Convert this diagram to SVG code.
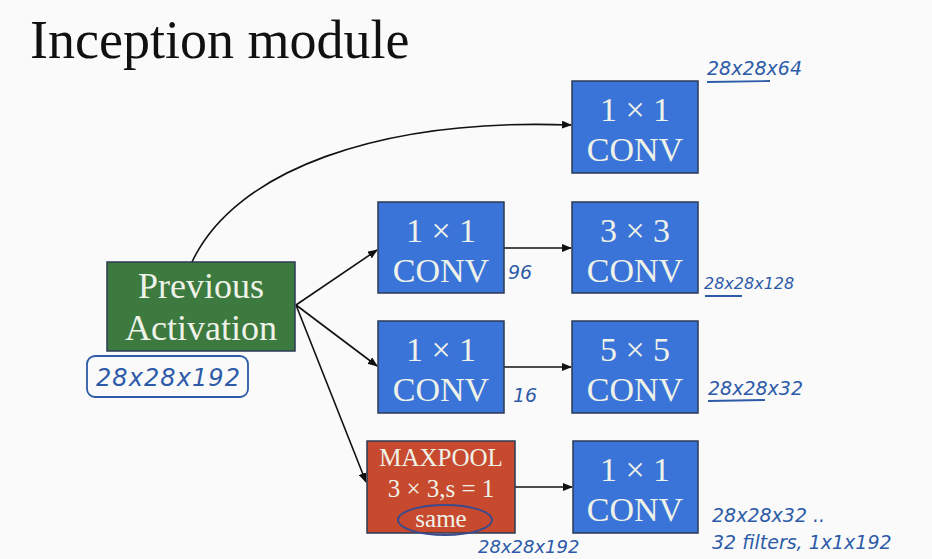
<svg xmlns="http://www.w3.org/2000/svg" width="932" height="559" viewBox="0 0 932 559">
<defs>
<marker id="ah" markerWidth="10" markerHeight="8" refX="9" refY="4" orient="auto" markerUnits="userSpaceOnUse">
<path d="M0,0 L10,4 L0,8 Z" fill="#111"/>
</marker>
<style>
.box{stroke:#2b3a55;stroke-width:1.5}
.blue{fill:#3a74d9}
.green{fill:#3d7a3f}
.red{fill:#c84a2e}
.bt{font-family:"Liberation Serif",serif;fill:#eef2e8;text-anchor:middle}
.conv{font-size:34px}
.pa{font-size:36px}
.mp{font-size:25px}
.hand{font-family:"DejaVu Sans",sans-serif;font-size:19px;fill:#2d5ba8;font-style:italic}
.ul{stroke:#2d5ba8;stroke-width:1.8;fill:none}
.con{stroke:#111;stroke-width:1.6;fill:none;marker-end:url(#ah)}
</style>
</defs>
<rect width="932" height="559" fill="#fafafa"/>
<text x="30" y="58" font-family="Liberation Serif,serif" font-size="54" fill="#111">Inception module</text>

<g id="connectors">
<path class="con" d="M192,262 C235,170 380,118 571,125"/>
<line class="con" x1="296" y1="305" x2="377" y2="250"/>
<line class="con" x1="296" y1="305" x2="377" y2="366"/>
<line class="con" x1="296" y1="305" x2="366" y2="482"/>
<line class="con" x1="504" y1="248" x2="571" y2="248"/>
<line class="con" x1="504" y1="367" x2="571" y2="367"/>
<line class="con" x1="515" y1="487" x2="572" y2="487"/>
</g>

<g id="prev">
<rect class="box green" x="107" y="262" width="188" height="89"/>
<text class="bt pa" x="201" y="298">Previous</text>
<text class="bt pa" x="201" y="340">Activation</text>
</g>
<g id="conv1x1-top">
<rect class="box blue" x="572" y="81" width="126" height="92"/>
<text class="bt conv" x="635" y="121">1 × 1</text>
<text class="bt conv" x="635" y="161">CONV</text>
</g>
<g id="conv1x1-a">
<rect class="box blue" x="378" y="202" width="126" height="91"/>
<text class="bt conv" x="441" y="242">1 × 1</text>
<text class="bt conv" x="441" y="282">CONV</text>
</g>
<g id="conv3x3">
<rect class="box blue" x="572" y="202" width="126" height="91"/>
<text class="bt conv" x="635" y="242">3 × 3</text>
<text class="bt conv" x="635" y="282">CONV</text>
</g>
<g id="conv1x1-b">
<rect class="box blue" x="378" y="321" width="126" height="92"/>
<text class="bt conv" x="441" y="361">1 × 1</text>
<text class="bt conv" x="441" y="401">CONV</text>
</g>
<g id="conv5x5">
<rect class="box blue" x="572" y="321" width="126" height="92"/>
<text class="bt conv" x="635" y="361">5 × 5</text>
<text class="bt conv" x="635" y="401">CONV</text>
</g>
<g id="maxpool">
<rect class="box red" x="367" y="441" width="148" height="92"/>
<text class="bt mp" x="441" y="466">MAXPOOL</text>
<text class="bt mp" x="441" y="497">3 × 3,s = 1</text>
<text class="bt mp" x="441" y="527">same</text>
</g>
<g id="conv1x1-c">
<rect class="box blue" x="573" y="441" width="125" height="92"/>
<text class="bt conv" x="635" y="481">1 × 1</text>
<text class="bt conv" x="635" y="521">CONV</text>
</g>

<g id="annotations">
<text class="hand" x="707" y="75">28x28x64</text>
<line class="ul" x1="707" y1="82" x2="770" y2="81"/>
<text class="hand" x="508" y="279">96</text>
<text class="hand" x="704" y="289" style="font-size:16px">28x28x128</text>
<line class="ul" x1="705" y1="296" x2="742" y2="296"/>
<text class="hand" x="513" y="402">16</text>
<text class="hand" x="708" y="395">28x28x32</text>
<line class="ul" x1="708" y1="401" x2="765" y2="400"/>
<rect x="87" y="356" width="161" height="41" rx="8" fill="none" stroke="#2d5ba8" stroke-width="1.8"/>
<text class="hand" x="96" y="386" style="font-size:24px" textLength="144" lengthAdjust="spacing">28x28x192</text>
<ellipse cx="445" cy="520" rx="47" ry="15" fill="none" stroke="#3b4a8c" stroke-width="2"/>
<text class="hand" x="478" y="553" style="font-size:18px">28x28x192</text>
<text class="hand" x="712" y="522">28x28x32 ..</text>
<text class="hand" x="712" y="549">32 filters, 1x1x192</text>
</g>
</svg>
